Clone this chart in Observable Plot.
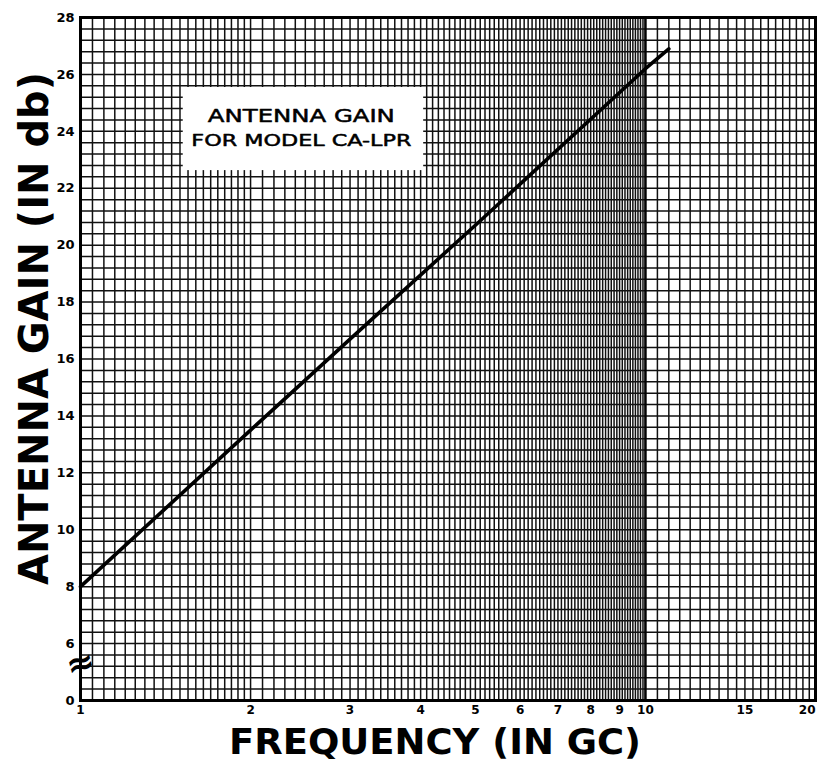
<!DOCTYPE html>
<html>
<head>
<meta charset="utf-8">
<script src="https://cdn.jsdelivr.net/npm/d3@7"></script>
<script src="https://cdn.jsdelivr.net/npm/@observablehq/plot@0.6"></script>
<style>
  html, body { margin: 0; padding: 0; background: #fff; }
  #chart svg { display: block; }
</style>
</head>
<body>
<div id="chart"></div>
<script>
// ---- data ----
const frequency = [1, 2, 3, 5, 10, 11];          // GC
const gain = [8, 13.5, 16.7, 20.7, 26.2, 26.9];  // dB (plotted on broken axis)

const xTicks = [1, 2, 3, 4, 5, 6, 7, 8, 9, 10, 15, 20];
const xTickLabels = ["1", "2", "3", "4", "5", "6", "7", "8", "9", "10", "15", "20"];
// the bottom of the axis is a break: internal value 4 is labelled "0"
const yTicks = [4, 6, 8, 10, 12, 14, 16, 18, 20, 22, 24, 26, 28];
const yTickLabels = ["0", "6", "8", "10", "12", "14", "16", "18", "20", "22", "24", "26", "28"];

const titleLines = ["ANTENNA GAIN", "FOR MODEL CA-LPR"];
const xLabel = "FREQUENCY (IN GC)";
const yLabel = "ANTENNA GAIN (IN db)";

// semi-log graph paper rulings
const xGrid = [
  ...d3.range(20, 40).map(i => i / 20),   // 1 .. 1.95 step 0.05
  ...d3.range(20, 100).map(i => i / 10),  // 2 .. 9.9 step 0.1
  ...d3.range(20, 41).map(i => i / 2)     // 10 .. 20 step 0.5
];
const yGrid = d3.range(10, 71).map(i => i * 0.4);

const series = frequency.map((f, i) => ({f, g: gain[i]}));
const lastTick = xTicks[xTicks.length - 1];

const chart = Plot.plot({
  width: 817,
  height: 776,
  marginLeft: 80,
  marginRight: 2,
  marginTop: 17,
  marginBottom: 76,
  style: {fontFamily: "DejaVu Sans", background: "#fff"},
  x: {type: "log", domain: [1, 20], label: null, axis: null},
  y: {domain: [4, 28], label: null, axis: null},
  marks: [
    Plot.ruleX(xGrid, {stroke: "#111", strokeWidth: 1.5}),
    Plot.ruleY(yGrid, {stroke: "#111", strokeWidth: 1.5}),
    Plot.ruleX([10], {stroke: "#000", strokeWidth: 2.4}),
    // white label box on the graph paper
    Plot.rect([0], {x1: 1.52, x2: 4.05, y1: 22.62, y2: 25.54, fill: "#fff"}),
    Plot.text([titleLines[0]], {x: 2.46, y: 24.32, text: d => d, lineAnchor: "bottom", fontSize: 18, fill: "#000", stroke: "#000", strokeWidth: 0.5}),
    Plot.text([titleLines[1]], {x: 2.46, y: 23.48, text: d => d, lineAnchor: "bottom", fontSize: 16, fill: "#000", stroke: "#000", strokeWidth: 0.5}),
    Plot.line(series, {x: "f", y: "g", stroke: "#000", strokeWidth: 3.6}),
    Plot.frame({stroke: "#000", strokeWidth: 3}),
    // axis break symbol
    Plot.text(["≈"], {x: 1, y: 5.3, text: d => d, fontSize: 34, fontWeight: "bold", fill: "#000", rotate: -15}),
    Plot.axisX(xTicks.slice(0, -1), {
      ticks: xTicks.slice(0, -1),
      tickFormat: d => xTickLabels[xTicks.indexOf(d)],
      tickSize: 0, tickPadding: 5, fontSize: 12, fontWeight: "bold", label: null
    }),
    Plot.text([lastTick], {
      x: d => d, frameAnchor: "bottom", dy: 13, textAnchor: "end",
      text: d => xTickLabels[xTicks.indexOf(d)], fontSize: 12, fontWeight: "bold", fill: "#000"
    }),
    Plot.axisY(yTicks, {
      ticks: yTicks,
      tickFormat: d => yTickLabels[yTicks.indexOf(d)],
      tickSize: 0, tickPadding: 6, fontSize: 13, fontWeight: "bold", label: null
    }),
    Plot.text([xLabel], {frameAnchor: "bottom", dx: -13, dy: 53, lineAnchor: "bottom", text: d => d, fontSize: 36, fontWeight: "bold", fill: "#000"}),
    Plot.text([yLabel], {x: 1, y: 17.07, dx: -45, rotate: -90, text: d => d, fontSize: 40, fontWeight: "bold", fill: "#000"})
  ]
});

// stretch big lettered labels to the widths in the reference
d3.select(chart).selectAll("text").each(function () {
  const t = this.textContent;
  const widths = {[xLabel]: 412, [yLabel]: 513, [titleLines[0]]: 187, [titleLines[1]]: 220};
  if (widths[t]) {
    d3.select(this).attr("textLength", widths[t]).attr("lengthAdjust", "spacingAndGlyphs");
  }
});

document.getElementById("chart").appendChild(chart);
</script>
</body>
</html>
